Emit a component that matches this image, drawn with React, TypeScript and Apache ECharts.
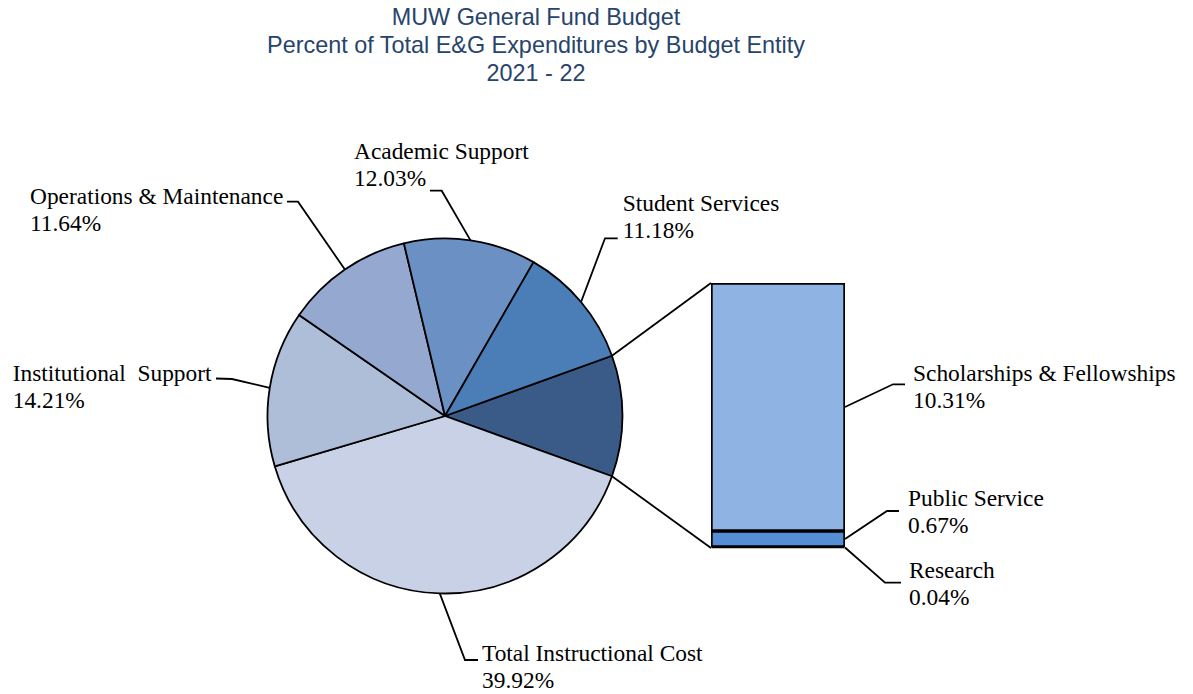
import React, { useEffect, useRef } from "react";
import * as echarts from "echarts";

// ---------- data ----------
const TITLE_LINES = [
  "MUW General Fund Budget",
  "Percent of Total E&G Expenditures by Budget Entity",
  "2021 - 22",
];

const PIE_NAMES = [
  "Total Instructional Cost",
  "Institutional  Support",
  "Operations & Maintenance",
  "Academic Support",
  "Student Services",
];
const PIE_VALUES = [39.92, 14.21, 11.64, 12.03, 11.18];
const PIE_COLORS = ["#c8d1e5", "#aebed9", "#95a9d0", "#6b90c3", "#4b7db7"];
const OTHER_NAME = "Other";
const OTHER_COLOR = "#3a5a87";

const BAR_NAMES = ["Scholarships & Fellowships", "Public Service", "Research"];
const BAR_VALUES = [10.31, 0.67, 0.04];
const BAR_COLORS = ["#8fb3e3", "#558ed5", "#2f4f7a"];

// ---------- layout ----------
const PIE_CX = 445;
const PIE_CY = 416;
const PIE_R = 177.5;
const GRID = { left: 711, top: 283, width: 134, height: 265 };
const LINE_W = 1.8;

const PIE_LABEL_POS = [
  { x: 482, y: 639.5, elbow: [465, 660], end: [478, 660] },
  { x: 12.7, y: 359, elbow: [232, 379], end: [216, 378.5] },
  { x: 30, y: 182.5, elbow: [298, 201.7], end: [287, 201.7] },
  { x: 354, y: 137.3, elbow: [441.7, 190.7], end: [430, 190.7] },
  { x: 622.7, y: 189.5, elbow: [605, 238.3], end: [617.7, 238.3] },
];
const BAR_LABEL_POS = [
  { x: 913, y: 359.5, elbow: [893, 384.3], end: [905, 384.3] },
  { x: 908, y: 484.5, elbow: [887, 511], end: [899, 511] },
  { x: 909, y: 556.5, elbow: [885, 582.7], end: [901, 582.7] },
];

const SERIF = "'Liberation Serif', 'Times New Roman', serif";
const SANS = "'Liberation Sans', Arial, sans-serif";
const LABEL_FONT = {
  fontFamily: SERIF,
  fontSize: 23.4,
  lineHeight: 27,
  color: "#000",
};

export default function App() {
  const ref = useRef<HTMLDivElement>(null);

  useEffect(() => {
    const el = ref.current!;
    const chart = echarts.init(el, undefined, { renderer: "svg" });

    const otherValue = BAR_VALUES.reduce((a, b) => a + b, 0);
    const pieData: any[] = [
      {
        name: OTHER_NAME,
        value: otherValue,
        itemStyle: { color: OTHER_COLOR },
        label: { show: false },
        labelLine: { show: false },
      },
      ...PIE_NAMES.map((n, i) => ({
        name: n,
        value: PIE_VALUES[i],
        itemStyle: { color: PIE_COLORS[i] },
      })),
    ];
    const pieTotal = pieData.reduce((a, d) => a + d.value, 0);
    const startAngle = ((otherValue / pieTotal) * 360) / 2;
    const rad = Math.PI / 180;
    const pointAt = (deg: number) => [
      PIE_CX + PIE_R * Math.cos(deg * rad),
      PIE_CY - PIE_R * Math.sin(deg * rad),
    ];
    const edgePoint = (idx: number) => {
      let cum = 0;
      for (let k = 0; k < idx; k++) cum += pieData[k].value;
      const mid = startAngle - ((cum + pieData[idx].value / 2) / pieTotal) * 360;
      return pointAt(mid);
    };

    // bar stack bottom -> top
    const barOrder = [2, 1, 0];
    const barMid: number[] = [];
    let cumBelow = 0;
    barOrder.forEach((i) => {
      barMid[i] =
        GRID.top + GRID.height * (1 - (cumBelow + BAR_VALUES[i] / 2) / otherValue);
      cumBelow += BAR_VALUES[i];
    });

    const barSeries = barOrder.map((i) => ({
      type: "bar",
      name: BAR_NAMES[i],
      stack: "other",
      data: [BAR_VALUES[i]],
      barWidth: "100%",
      silent: true,
      itemStyle: { color: BAR_COLORS[i], borderColor: "#000", borderWidth: 1.7 },
      label: {
        show: true,
        position: "right",
        formatter: `${BAR_NAMES[i]}\n${BAR_VALUES[i].toFixed(2)}%`,
        ...LABEL_FONT,
        width: 300,
        overflow: "none",
      },
      labelLayout: () => ({
        x: BAR_LABEL_POS[i].x,
        y: BAR_LABEL_POS[i].y,
        align: "left",
        verticalAlign: "top",
      }),
    }));

    const p1 = pointAt(startAngle);
    const p2 = pointAt(-startAngle);

    const graphics: any[] = [
      {
        type: "line",
        shape: { x1: p1[0], y1: p1[1], x2: GRID.left, y2: GRID.top },
        style: { stroke: "#000", lineWidth: LINE_W },
        z: 10,
      },
      {
        type: "line",
        shape: { x1: p2[0], y1: p2[1], x2: GRID.left, y2: GRID.top + GRID.height },
        style: { stroke: "#000", lineWidth: LINE_W },
        z: 10,
      },
      ...BAR_NAMES.map((_, i) => ({
        type: "polyline",
        shape: {
          points: [
            [GRID.left + GRID.width, barMid[i]],
            BAR_LABEL_POS[i].elbow,
            BAR_LABEL_POS[i].end,
          ],
        },
        style: { stroke: "#000", lineWidth: LINE_W, fill: "none" },
        z: 10,
      })),
    ];

    chart.setOption({
      animation: false,
      backgroundColor: "#fff",
      title: {
        text: TITLE_LINES.join("\n"),
        left: 536,
        top: 3,
        padding: 0,
        textAlign: "center",
        textStyle: {
          fontFamily: SANS,
          fontSize: 23.4,
          lineHeight: 27.8,
          fontWeight: "normal",
          color: "#27446b",
        },
      },
      grid: { ...GRID },
      xAxis: { type: "category", data: [OTHER_NAME], show: false },
      yAxis: { type: "value", min: 0, max: otherValue, show: false },
      graphic: graphics,
      series: [
        {
          type: "pie",
          center: [PIE_CX, PIE_CY],
          radius: PIE_R,
          startAngle,
          clockwise: true,
          avoidLabelOverlap: false,
          silent: true,
          emphasis: { disabled: true },
          data: pieData,
          itemStyle: { borderColor: "#000", borderWidth: LINE_W },
          label: {
            show: true,
            position: "outside",
            formatter: (p: any) => `${p.name}\n${Number(p.value).toFixed(2)}%`,
            ...LABEL_FONT,
            width: 320,
            overflow: "none",
          },
          labelLine: {
            show: true,
            length: 10,
            length2: 10,
            lineStyle: { color: "#000", width: LINE_W },
          },
          labelLayout: (params: any) => {
            const i = params.dataIndex;
            if (i === 0) return {};
            const pos = PIE_LABEL_POS[i - 1];
            return {
              x: pos.x,
              y: pos.y,
              align: "left",
              verticalAlign: "top",
              labelLinePoints: [edgePoint(i), pos.elbow, pos.end],
            };
          },
        },
        ...barSeries,
      ],
    });

    return () => chart.dispose();
  }, []);

  return (
    <div
      ref={ref}
      style={{ position: "fixed", left: 0, top: 0, width: 1193, height: 694 }}
    />
  );
}
